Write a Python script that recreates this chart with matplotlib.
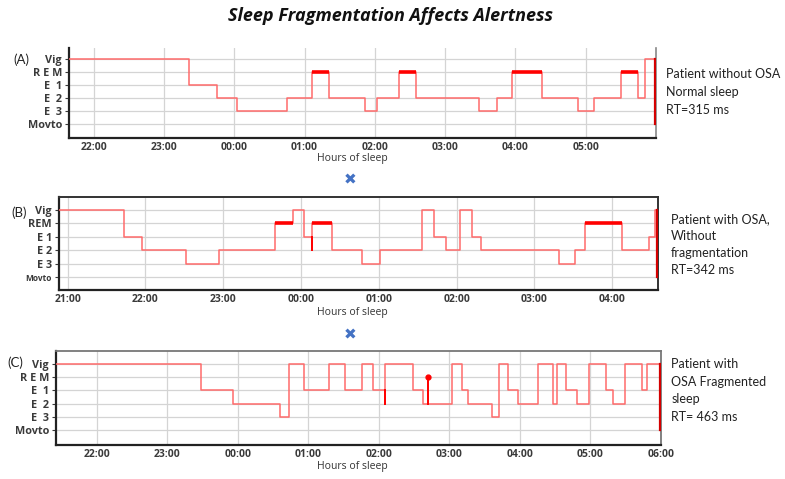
import matplotlib
matplotlib.use("Agg")
import matplotlib.pyplot as plt

plt.rcParams['font.family'] = ['Open Sans', 'DejaVu Sans']

title = "Sleep Fragmentation Affects Alertness"
stage_levels = {'Vig': 5, 'REM': 4, 'E1': 3, 'E2': 2, 'E3': 1, 'Movto': 0}

# Panel A (patient without OSA)
A_starts = [21.65, 23.36, 23.76, 24.04, 24.75, 25.11, 25.35, 25.86, 26.03, 26.34,
            26.58, 27.48, 27.74, 27.95, 28.38, 28.89, 29.12, 29.50, 29.75, 29.85]
A_stages = ['Vig', 'E1', 'E2', 'E3', 'E2', 'REM', 'E2', 'E3', 'E2', 'REM',
            'E2', 'E3', 'E2', 'REM', 'E2', 'E3', 'E2', 'REM', 'E2', 'Vig']
A_end = 29.99
A_xlim = (21.65, 30.0)
A_ticks = [22, 23, 24, 25, 26, 27, 28, 29]
A_ylabels = ['Movto', 'E  3', 'E  2', 'E  1', 'R E M', 'Vig']
A_text = "Patient without OSA\nNormal sleep\nRT=315 ms"

# Panel B (patient with OSA, without fragmentation)
B_starts = [20.89, 21.72, 21.96, 22.52, 22.94, 23.66, 23.90, 24.04, 24.14, 24.145,
            24.40, 24.78, 25.02, 25.56, 25.71, 25.87, 26.04, 26.20, 26.31, 27.32,
            27.52, 27.65, 28.13, 28.47, 28.55]
B_stages = ['Vig', 'E1', 'E2', 'E3', 'E2', 'REM', 'Vig', 'E1', 'E2', 'REM',
            'E2', 'E3', 'E2', 'Vig', 'E1', 'E2', 'Vig', 'E1', 'E2', 'E3',
            'E2', 'REM', 'E2', 'E1', 'Vig']
B_end = 28.58
B_xlim = (20.89, 28.59)
B_ticks = [21, 22, 23, 24, 25, 26, 27, 28]
B_ylabels = ['Movto', 'E 3', 'E 2', 'E 1', 'REM', 'Vig']
B_text = "Patient with OSA,\nWithout\nfragmentation\nRT=342 ms"

# Panel C (patient with OSA, fragmented sleep)
C_starts = [21.42, 23.48, 23.93, 24.60, 24.73, 24.94, 25.29, 25.52, 25.76, 25.92,
            26.09, 26.095, 26.49, 26.63, 26.70, 26.705, 27.04, 27.18, 27.27, 27.60,
            27.70, 27.84, 27.97, 28.26, 28.47, 28.53, 28.65, 28.81, 28.99, 29.23,
            29.33, 29.50, 29.73, 29.81]
C_stages = ['Vig', 'E1', 'E2', 'E3', 'Vig', 'E1', 'Vig', 'E1', 'Vig', 'E1',
            'E2', 'Vig', 'E1', 'E2', 'REM', 'E2', 'Vig', 'E1', 'E2', 'E3',
            'Vig', 'E1', 'E2', 'Vig', 'E2', 'Vig', 'E1', 'E2', 'Vig', 'E1',
            'E2', 'Vig', 'E1', 'Vig']
C_end = 29.995
C_xlim = (21.42, 30.0)
C_ticks = [22, 23, 24, 25, 26, 27, 28, 29, 30]
C_ylabels = ['Movto', 'E  3', 'E  2', 'E  1', 'R E M', 'Vig']
C_text = "Patient with\nOSA Fragmented\nsleep\nRT= 463 ms"

panel_labels = ['(A)', '(B)', '(C)']

LINE = '#ff6b6b'
REMC = '#ff0000'
ENDC = '#d40000'
GRID = '#d4d4d4'
TICKC = '#3a3a3a'

fig = plt.figure(figsize=(7.85, 4.79), dpi=100)

positions = [
    [0.0879, 0.7119, 0.7478, 0.1879],
    [0.0752, 0.3946, 0.7631, 0.1948],
    [0.0713, 0.0710, 0.7703, 0.1962],
]
ylims = [(-1.05, 5.87), (-0.94, 5.99), (-1.10, 5.95)]

panels = [
    (A_starts, A_stages, A_end, A_xlim, A_ticks, A_ylabels, A_text),
    (B_starts, B_stages, B_end, B_xlim, B_ticks, B_ylabels, B_text),
    (C_starts, C_stages, C_end, C_xlim, C_ticks, C_ylabels, C_text),
]

text_pos = [(0.849, 0.859), (0.855, 0.555), (0.855, 0.252)]
text_spacing = [1.62, 1.48, 1.55]
label_pos = [(0.017, 0.875), (0.015, 0.556), (0.010, 0.243)]
hours_y = [0.670, 0.348, 0.026]

for i, (starts, stages, end, xlim, ticks, ylabels, txt) in enumerate(panels):
    ax = fig.add_axes(positions[i])
    levels = [stage_levels[s] for s in stages]
    xs = list(starts) + [end]
    ys = levels + [levels[-1]]
    ax.step(xs, ys, where='post', color=LINE, lw=1.1, zorder=3)
    for j, s in enumerate(stages):
        x0 = starts[j]
        x1 = starts[j + 1] if j + 1 < len(starts) else end
        short = (x1 - x0) < 0.02
        if s == 'REM':
            ax.plot([x0, x1], [4, 4], color=REMC, lw=2.6, solid_capstyle='butt', zorder=4)
            if short:
                ax.plot([x0, x0], [levels[j - 1], 4], color=REMC, lw=1.4, zorder=4)
                ax.plot([x0], [4], 'o', color=REMC, ms=3.5, zorder=5)
        elif short and j > 0:
            ax.plot([x0, x0], [levels[j - 1], levels[j]], color=REMC, lw=1.4, zorder=4)
    # final drop to Movto at the end of the record
    ax.plot([end, end], [levels[-1], 0], color=ENDC, lw=1.6, zorder=4)

    ax.set_xlim(*xlim)
    ax.set_ylim(*ylims[i])
    ax.set_yticks([0, 1, 2, 3, 4, 5])
    ax.set_yticklabels(ylabels)
    ax.set_xticks(ticks)
    ax.set_xticklabels(["%02d:00" % (h % 24) for h in ticks])
    ax.grid(True, color=GRID, lw=0.9, zorder=0)
    ax.tick_params(axis='x', length=0, pad=3, labelsize=7.5, colors=TICKC)
    ax.tick_params(axis='y', length=3, width=0.8, pad=2, labelsize=7.8,
                   colors=TICKC, direction='out')
    for lab in ax.get_xticklabels() + ax.get_yticklabels():
        lab.set_fontweight('bold')
    if i == 1:
        ax.get_yticklabels()[0].set_fontsize(6)
    for side in ['left', 'bottom']:
        ax.spines[side].set_color('#222222')
        ax.spines[side].set_linewidth(1.6)
    if i == 0:
        ax.spines['top'].set_visible(False)
        ax.spines['right'].set_color('#888888')
        ax.spines['right'].set_linewidth(1.2)
    elif i == 1:
        ax.spines['top'].set_color('#333333')
        ax.spines['top'].set_linewidth(1.4)
        ax.spines['right'].set_color('#333333')
        ax.spines['right'].set_linewidth(1.4)
    else:
        ax.spines['top'].set_color('#777777')
        ax.spines['top'].set_linewidth(1.3)
        ax.spines['right'].set_color('#777777')
        ax.spines['right'].set_linewidth(1.3)

    fig.text(text_pos[i][0], text_pos[i][1], txt, fontsize=9, color='#222222',
             va='top', ha='left', linespacing=text_spacing[i],
             family=['Lato', 'DejaVu Sans'])
    fig.text(label_pos[i][0], label_pos[i][1], panel_labels[i], fontsize=9.5,
             color='#222222', va='center', ha='left', family=['Lato', 'DejaVu Sans'])
    fig.text(0.449, hours_y[i], "Hours of sleep", fontsize=7.5, color='#333333',
             ha='center', va='center')

fig.text(0.497, 0.967, title, fontsize=13, fontweight='bold', fontstyle='italic',
         ha='center', va='center', color='#111111')

# blue crosses between panels
for yy in [0.624, 0.301]:
    fig.text(0.446, yy, "\u2716", fontsize=11, color='#4472c4',
             ha='center', va='center', family=['DejaVu Sans'])

fig.savefig('out.png', dpi=100)
